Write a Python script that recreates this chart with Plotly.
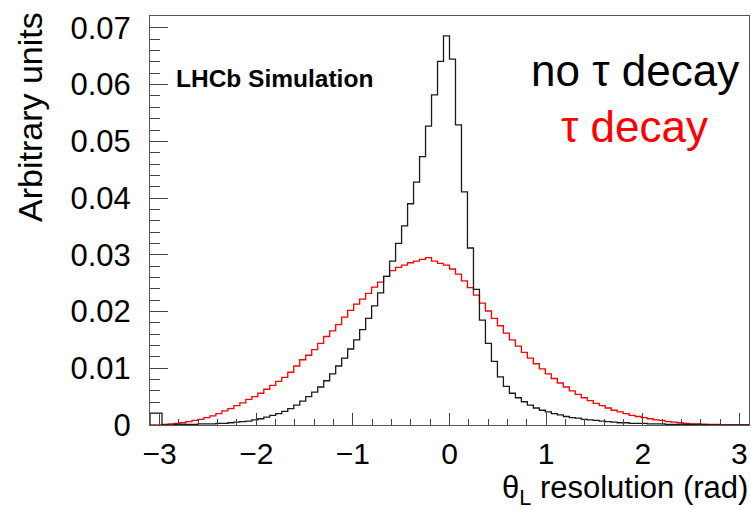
import numpy as np
import plotly.graph_objects as go

# Histogram binning: 100 bins over [-3.1, 3.1]
x_min, x_max, n_bins = -3.1, 3.1, 100

# "no tau decay" (black) bin contents
no_tau = [
    0.0021, 0.0021, 0.0000, 0.0000, 0.0001, 0.0001, 0.0001, 0.0001, 0.0002, 0.0002,
    0.0002, 0.0003, 0.0003, 0.0004, 0.0005, 0.0006, 0.0007, 0.0009, 0.0011, 0.0014,
    0.0017, 0.0020, 0.0024, 0.0029, 0.0035, 0.0042, 0.0050, 0.0058, 0.0067, 0.0078,
    0.0090, 0.0104, 0.0118, 0.0134, 0.0150, 0.0168, 0.0188, 0.0210, 0.0233, 0.0262,
    0.0289, 0.0320, 0.0351, 0.0390, 0.0428, 0.0473, 0.0527, 0.0582, 0.0641, 0.0686,
    0.0645, 0.0529, 0.0411, 0.0312, 0.0239, 0.0185, 0.0144, 0.0112, 0.0085, 0.0068,
    0.0056, 0.0048, 0.0041, 0.0035, 0.0030, 0.0026, 0.0023, 0.0020, 0.0018, 0.0015,
    0.0013, 0.0012, 0.0010, 0.0009, 0.0008, 0.0007, 0.0006, 0.0005, 0.0004, 0.0004,
    0.0003, 0.0003, 0.0003, 0.0002, 0.0002, 0.0002, 0.0001, 0.0001, 0.0001, 0.0001,
    0.0001, 0.0001, 0.0001, 0.0000, 0.0000, 0.0000, 0.0000, 0.0000, 0.0000, 0.0000,
]

# "tau decay" (red) bin contents
tau = [
    0.0000, 0.0000, 0.0001, 0.0002, 0.0003, 0.0004, 0.0006, 0.0008, 0.0010, 0.0013,
    0.0016, 0.0020, 0.0025, 0.0029, 0.0034, 0.0039, 0.0045, 0.0050, 0.0056, 0.0063,
    0.0070, 0.0077, 0.0084, 0.0093, 0.0104, 0.0115, 0.0123, 0.0133, 0.0144, 0.0156,
    0.0166, 0.0177, 0.0190, 0.0202, 0.0213, 0.0222, 0.0232, 0.0243, 0.0252, 0.0262,
    0.0272, 0.0278, 0.0282, 0.0286, 0.0289, 0.0292, 0.0295, 0.0289, 0.0285, 0.0282,
    0.0275, 0.0266, 0.0254, 0.0242, 0.0229, 0.0215, 0.0201, 0.0188, 0.0175, 0.0162,
    0.0150, 0.0139, 0.0128, 0.0118, 0.0108, 0.0099, 0.0090, 0.0082, 0.0074, 0.0067,
    0.0060, 0.0054, 0.0048, 0.0043, 0.0038, 0.0034, 0.0030, 0.0026, 0.0023, 0.0020,
    0.0017, 0.0015, 0.0013, 0.0011, 0.0009, 0.0008, 0.0006, 0.0005, 0.0004, 0.0003,
    0.0002, 0.0002, 0.0001, 0.0001, 0.0001, 0.0000, 0.0000, 0.0000, 0.0000, 0.0000,
]

edges = np.linspace(x_min, x_max, n_bins + 1)


def step_xy(vals):
    xs = np.concatenate([[edges[0]], edges])
    ys = np.concatenate([[0.0], vals, [0.0]])
    return xs, ys


FONT = "Liberation Sans, Arial, Helvetica, sans-serif"

fig = go.Figure()
for vals, color, name in [(tau, "#ff0000", "τ decay"), (no_tau, "#1a1a1a", "no τ decay")]:
    xs, ys = step_xy(vals)
    fig.add_trace(go.Scatter(x=xs, y=ys, mode="lines", line=dict(color=color, width=1.3, shape="hv"),
                             name=name, showlegend=False, hoverinfo="skip"))

W, H = 751, 509
L, R, T, B = 150, 2, 16, 84

fig.update_layout(
    width=W, height=H,
    margin=dict(l=L, r=R, t=T, b=B, pad=0),
    paper_bgcolor="white", plot_bgcolor="white",
    font=dict(family=FONT, color="black"),
    xaxis=dict(
        range=[x_min, x_max], showgrid=False, zeroline=False,
        showline=True, mirror=True, linecolor="#555", linewidth=1,
        ticks="inside", ticklen=12, tickcolor="#444", tickwidth=1,
        tick0=0, dtick=1, tickfont=dict(size=30, family=FONT),
        ticklabelstandoff=2,
        minor=dict(ticks="inside", dtick=0.2, ticklen=6, tickcolor="#444", tickwidth=1, showgrid=False),
    ),
    yaxis=dict(
        range=[0, 0.0721], showgrid=False, zeroline=False,
        showline=True, mirror=True, linecolor="#555", linewidth=1,
        ticks="inside", ticklen=18, tickcolor="#444", tickwidth=1,
        tick0=0, dtick=0.01, tickfont=dict(size=31, family=FONT),
        ticklabelstandoff=12,
        minor=dict(ticks="inside", dtick=0.002, ticklen=10, tickcolor="#444", tickwidth=1, showgrid=False),
    ),
)

pw = W - L - R
ph = H - T - B


def px(xp):
    return (xp - L) / pw


def py(yp):
    return (H - B - yp) / ph


fig.add_annotation(text="Arbitrary units", textangle=-90, xref="paper", yref="paper",
                   x=px(30), y=py(117), xanchor="center", yanchor="middle", showarrow=False,
                   font=dict(size=34, family=FONT, color="black"))
fig.add_annotation(text="θ<sub>L</sub> resolution (rad)", xref="paper", yref="paper",
                   x=px(750), y=py(490), xanchor="right", yanchor="middle", showarrow=False,
                   font=dict(size=31, family=FONT, color="black"))
fig.add_annotation(text="<b>LHCb Simulation</b>", xref="paper", yref="paper",
                   x=px(174), y=py(78), xanchor="left", yanchor="middle", showarrow=False,
                   font=dict(size=24.5, family=FONT, color="black"))
fig.add_annotation(text="no τ decay", xref="paper", yref="paper",
                   x=px(635), y=py(70), xanchor="center", yanchor="middle", showarrow=False,
                   font=dict(size=44, family=FONT, color="black"))
fig.add_annotation(text="τ decay", xref="paper", yref="paper",
                   x=px(634), y=py(127), xanchor="center", yanchor="middle", showarrow=False,
                   font=dict(size=44, family=FONT, color="#ff0000"))

fig.write_html("out.html")
